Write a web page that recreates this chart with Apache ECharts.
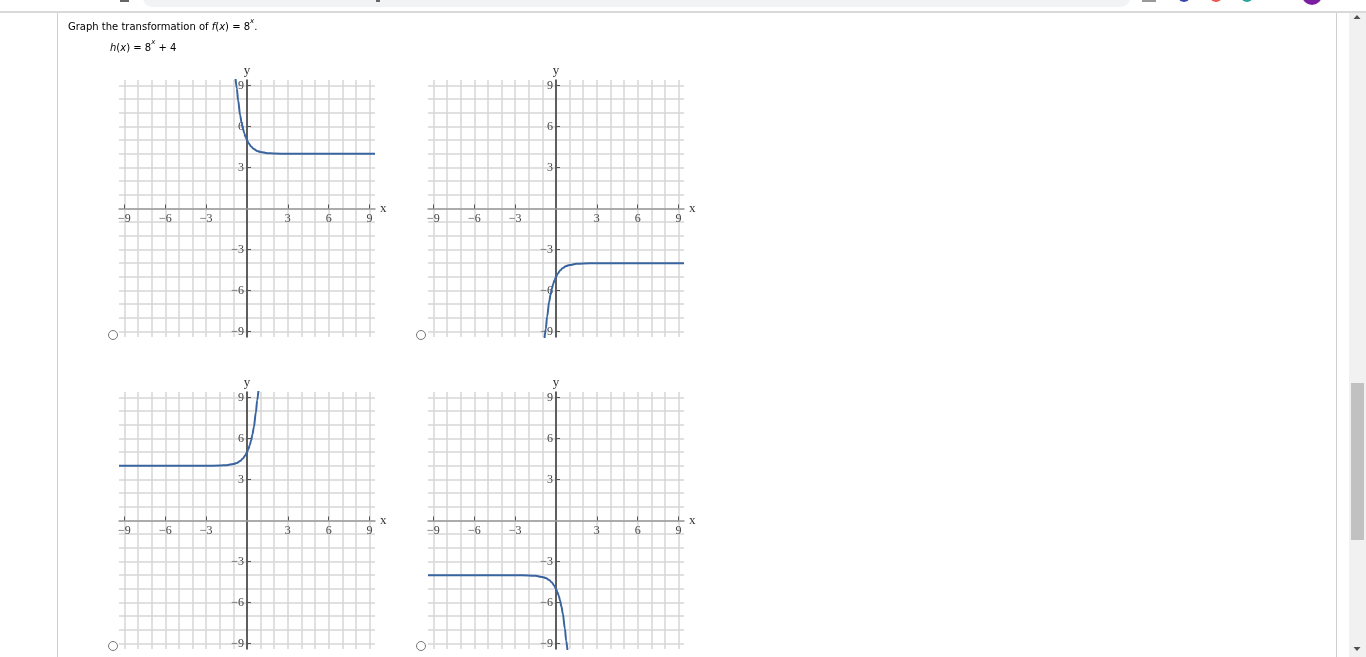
<!DOCTYPE html>
<html>
<head>
<meta charset="utf-8">
<script src="https://cdn.jsdelivr.net/npm/echarts@6/dist/echarts.min.js"></script>
<style>
html,body{margin:0;padding:0;background:#fff;overflow:hidden;}
#chart{width:1366px;height:657px;}
</style>
</head>
<body>
<div id="chart"></div>
<script>
// Tick values and labels shown on every axis
const tickValues = [-9, -6, -3, 3, 6, 9];
const tickLabels = ['\u22129', '\u22126', '\u22123', '3', '6', '9'];

// Graph 1 (top-left): decreasing curve, asymptote y = 4
const g1x = [-0.85, -0.75, -0.65, -0.5, -0.4, -0.3, -0.2, -0.1, 0, 0.15, 0.3, 0.5, 0.75, 1, 1.5, 2, 3, 9.4];
const g1y = [9.6, 8.8, 7.9, 6.8, 6.3, 5.85, 5.5, 5.23, 5.0, 4.73, 4.54, 4.35, 4.21, 4.13, 4.05, 4.02, 4.0, 4.0];

// Graph 2 (top-right): increasing curve from below, asymptote y = -4
const g2x = [-0.85, -0.75, -0.65, -0.5, -0.4, -0.3, -0.2, -0.1, 0, 0.15, 0.3, 0.5, 0.75, 1, 1.5, 2, 3, 9.4];
const g2y = [-9.6, -8.8, -7.9, -6.8, -6.3, -5.85, -5.5, -5.23, -5.0, -4.73, -4.54, -4.35, -4.21, -4.13, -4.05, -4.02, -4.0, -4.0];

// Graph 3 (bottom-left): increasing curve, asymptote y = 4
const g3x = [-9.4, -3, -2, -1.5, -1, -0.75, -0.5, -0.3, -0.15, 0, 0.1, 0.2, 0.3, 0.4, 0.5, 0.65, 0.75, 0.85];
const g3y = [4.0, 4.0, 4.02, 4.05, 4.13, 4.21, 4.35, 4.54, 4.73, 5.0, 5.23, 5.5, 5.85, 6.3, 6.8, 7.9, 8.8, 9.6];

// Graph 4 (bottom-right): decreasing curve, asymptote y = -4
const g4x = [-9.4, -3, -2, -1.5, -1, -0.75, -0.5, -0.3, -0.15, 0, 0.1, 0.2, 0.3, 0.4, 0.5, 0.65, 0.75, 0.85];
const g4y = [-4.0, -4.0, -4.02, -4.05, -4.13, -4.21, -4.35, -4.54, -4.73, -5.0, -5.23, -5.5, -5.85, -6.3, -6.8, -7.9, -8.8, -9.6];

const curves = [[g1x, g1y], [g2x, g2y], [g3x, g3y], [g4x, g4y]];

const gridPos = [
  {left: 119, top: 80},
  {left: 428, top: 80},
  {left: 119, top: 392},
  {left: 428, top: 392}
];
const GW = 256, GH = 257;
const AMIN = -9.4, AMAX = 9.4;

const labelFont = 'Liberation Serif';
function labelFmt(v) {
  const i = tickValues.indexOf(Math.round(v));
  return i >= 0 ? tickLabels[i] : '';
}

const grids = [], xAxes = [], yAxes = [], series = [];
gridPos.forEach((p, i) => {
  grids.push({left: p.left, top: p.top, width: GW, height: GH, containLabel: false});
  // primary x axis: grid lines + axis line + name
  xAxes.push({
    gridIndex: i, type: 'value', min: AMIN, max: AMAX, position: 'bottom',
    splitNumber: 19, minInterval: 1, maxInterval: 1,
    offset: -GH / 2,
    name: 'x', nameLocation: 'end', nameGap: 5,
    nameTextStyle: {fontFamily: labelFont, fontSize: 13, color: '#333'},
    axisLine: {show: true, onZero: false, lineStyle: {color: '#9a9a9a', width: 1.5}},
    axisTick: {show: false},
    axisLabel: {show: false},
    splitLine: {show: true, showMinLine: false, showMaxLine: false, lineStyle: {color: '#d6d6d6', width: 1.5}}
  });
  // secondary x axis: ticks and labels at ±3, ±6, ±9
  xAxes.push({
    gridIndex: i, type: 'value', min: AMIN, max: AMAX, position: 'bottom',
    offset: -GH / 2,
    axisLine: {show: false, onZero: false},
    axisTick: {show: true, inside: true, length: 4, customValues: tickValues, lineStyle: {color: '#555', width: 1}},
    axisLabel: {show: true, customValues: tickValues, formatter: labelFmt, margin: 4,
      fontFamily: labelFont, fontSize: 12, color: '#444'},
    splitLine: {show: false}
  });
  yAxes.push({
    gridIndex: i, type: 'value', min: AMIN, max: AMAX, position: 'left',
    splitNumber: 19, minInterval: 1, maxInterval: 1,
    offset: -GW / 2,
    name: 'y', nameLocation: 'end', nameGap: 3,
    nameTextStyle: {fontFamily: labelFont, fontSize: 13, color: '#333'},
    axisLine: {show: true, onZero: false, lineStyle: {color: '#333', width: 1.5}},
    axisTick: {show: false},
    axisLabel: {show: false},
    splitLine: {show: true, showMinLine: false, showMaxLine: false, lineStyle: {color: '#d6d6d6', width: 1.5}}
  });
  yAxes.push({
    gridIndex: i, type: 'value', min: AMIN, max: AMAX, position: 'left',
    offset: -GW / 2,
    axisLine: {show: false, onZero: false},
    axisTick: {show: true, inside: true, length: 4, customValues: tickValues, lineStyle: {color: '#555', width: 1}},
    axisLabel: {show: true, customValues: tickValues, formatter: labelFmt, margin: 3,
      fontFamily: labelFont, fontSize: 12, color: '#444'},
    splitLine: {show: false}
  });
  const xs = curves[i][0], ys = curves[i][1];
  series.push({
    type: 'line', xAxisIndex: 2 * i, yAxisIndex: 2 * i,
    data: xs.map((x, k) => [x, ys[k]]),
    showSymbol: false, smooth: 0.35, smoothMonotone: 'x', clip: true,
    lineStyle: {color: '#3a64a0', width: 2}, silent: true, z: 5
  });
});

const textRich = {
  a: {fontFamily: 'DejaVu Sans', fontSize: 10, color: '#333', lineHeight: 14, verticalAlign: 'bottom'},
  i: {fontFamily: 'DejaVu Sans', fontStyle: 'italic', fontSize: 10, color: '#333', lineHeight: 14, verticalAlign: 'bottom'},
  r: {fontFamily: 'DejaVu Sans', fontSize: 10, color: '#e03a3a', lineHeight: 14, verticalAlign: 'bottom'},
  s: {fontFamily: 'DejaVu Sans', fontStyle: 'italic', fontSize: 7, color: '#e03a3a', lineHeight: 14, verticalAlign: 'top'}
};

const radios = [[113, 335], [421, 335], [113, 646], [421, 646]].map(c => ({
  type: 'circle', shape: {cx: c[0], cy: c[1], r: 4.5},
  style: {fill: '#fff', stroke: '#777', lineWidth: 1}, z: 10
}));

const chrome = [
  {type: 'rect', shape: {x: 143, y: -12, width: 987, height: 19, r: 9}, style: {fill: '#f1f3f4'}},
  {type: 'rect', shape: {x: 120, y: 0, width: 9, height: 2}, style: {fill: '#666'}},
  {type: 'rect', shape: {x: 376, y: 0, width: 4, height: 2}, style: {fill: '#666'}},
  {type: 'rect', shape: {x: 1142, y: 0, width: 14, height: 2}, style: {fill: '#999'}},
  {type: 'circle', shape: {cx: 1184, cy: -4, r: 6}, style: {fill: '#3949ab'}},
  {type: 'circle', shape: {cx: 1216, cy: -4, r: 6}, style: {fill: '#ef5350'}},
  {type: 'circle', shape: {cx: 1247, cy: -4, r: 6}, style: {fill: '#26a69a'}},
  {type: 'circle', shape: {cx: 1312, cy: -5, r: 10}, style: {fill: '#7b1fa2'}},
  {type: 'line', shape: {x1: 0, y1: 12, x2: 1366, y2: 12}, style: {stroke: '#d9d9d9', lineWidth: 2}},
  {type: 'line', shape: {x1: 57.5, y1: 13, x2: 57.5, y2: 657}, style: {stroke: '#cfcfcf', lineWidth: 1}},
  {type: 'line', shape: {x1: 1336.5, y1: 13, x2: 1336.5, y2: 657}, style: {stroke: '#cfcfcf', lineWidth: 1}},
  {type: 'rect', shape: {x: 1349, y: 13, width: 17, height: 644}, style: {fill: '#f1f1f1'}},
  {type: 'rect', shape: {x: 1351, y: 383, width: 13, height: 157}, style: {fill: '#c1c1c1'}},
  {type: 'polygon', shape: {points: [[1353.5, 19], [1360.5, 19], [1357, 15]]}, style: {fill: '#505050'}},
  {type: 'polygon', shape: {points: [[1353.5, 647], [1360.5, 647], [1357, 651]]}, style: {fill: '#505050'}}
];

const texts = [
  {type: 'text', left: 68, top: 18, style: {
    text: '{a|Graph the transformation of }{i|f}{a|(}{i|x}{a|) = }{r|8}{s|x}{a|.}', rich: textRich}},
  {type: 'text', left: 110, top: 39, style: {
    text: '{i|h}{a|(}{i|x}{a|) = }{r|8}{s|x}{a| + }{r|4}', rich: textRich}}
];

const chart = echarts.init(document.getElementById('chart'), null, {renderer: 'canvas'});
chart.setOption({
  backgroundColor: '#ffffff',
  animation: false,
  grid: grids,
  xAxis: xAxes,
  yAxis: yAxes,
  series: series,
  graphic: chrome.concat(texts).concat(radios)
});
</script>
</body>
</html>
